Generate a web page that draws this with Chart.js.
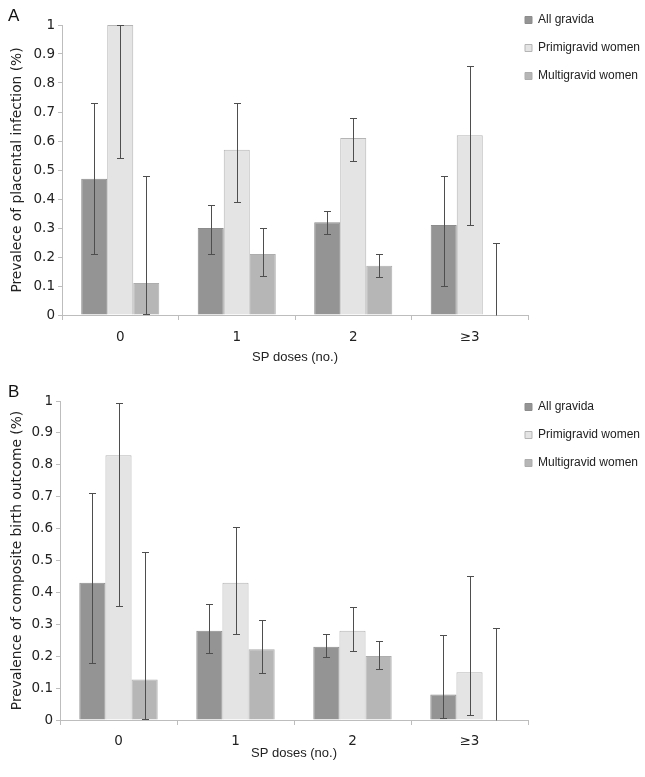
<!DOCTYPE html>
<html>
<head>
<meta charset="utf-8">
<script src="https://cdn.jsdelivr.net/npm/chart.js@4.4.1/dist/chart.umd.min.js"></script>
<style>
    body { margin: 0; background: #fff; }
    canvas { display: block; }
</style>
</head>
<body>
<canvas id="chartA" width="645" height="376"></canvas>
<canvas id="chartB" width="645" height="401"></canvas>
<script>
var doses = ['0', '1', '2', '≥3'];
var seriesNames = ['All gravida', 'Primigravid women', 'Multigravid women'];

// A - placental infection
var infAll = [0.47, 0.30, 0.32, 0.31];
var infAllLow = [0.21, 0.21, 0.28, 0.10];
var infAllHigh = [0.73, 0.38, 0.36, 0.48];
var infPrimi = [1.0, 0.57, 0.61, 0.62];
var infPrimiLow = [0.54, 0.39, 0.53, 0.31];
var infPrimiHigh = [1.0, 0.73, 0.68, 0.86];
var infMulti = [0.11, 0.21, 0.17, 0];
var infMultiLow = [0.003, 0.135, 0.13, 0];
var infMultiHigh = [0.48, 0.30, 0.21, 0.25];

// B - composite birth outcome
var cboAll = [0.43, 0.28, 0.23, 0.08];
var cboAllLow = [0.178, 0.209, 0.197, 0.007];
var cboAllHigh = [0.713, 0.363, 0.269, 0.268];
var cboPrimi = [0.83, 0.43, 0.28, 0.15];
var cboPrimiLow = [0.357, 0.269, 0.215, 0.016];
var cboPrimiHigh = [0.994, 0.605, 0.353, 0.451];
var cboMulti = [0.127, 0.222, 0.201, 0];
var cboMultiLow = [0.004, 0.146, 0.160, 0];
var cboMultiHigh = [0.527, 0.313, 0.247, 0.287];

var fills = ['#949494', '#e4e4e4', '#b6b6b6'];
var borders = ['#8c8c8c', '#b5b5b5', '#adadad'];
var axisColor = '#bdbdbd';

// error bars drawn from the y scale
var errorBars = {
    id: 'errorBars',
    afterDatasetsDraw: function(chart) {
        var ctx = chart.ctx;
        var yScale = chart.scales.y;
        ctx.save();
        ctx.strokeStyle = '#4e4e4e';
        ctx.lineWidth = 1;
        chart.data.datasets.forEach(function(ds, i) {
            var meta = chart.getDatasetMeta(i);
            meta.data.forEach(function(bar, j) {
                var x = Math.round(bar.x) + 0.5;
                var top = Math.round(yScale.getPixelForValue(ds.errHigh[j])) + 0.5;
                var bot = Math.round(yScale.getPixelForValue(ds.errLow[j])) + 0.5;
                ctx.beginPath();
                ctx.moveTo(x, top);
                ctx.lineTo(x, bot);
                ctx.moveTo(x - 3.5, top);
                ctx.lineTo(x + 3.5, top);
                if (ds.errLow[j] > 0) {
                    ctx.moveTo(x - 3.5, bot);
                    ctx.lineTo(x + 3.5, bot);
                }
                ctx.stroke();
            });
        });
        ctx.restore();
    }
};

// put the legend where the original has it (it overlaps the plot box a bit)
var legendPlace = {
    id: 'legendPlace',
    afterLayout: function(chart, args, opts) {
        var lg = chart.legend;
        var h = lg.height;
        lg.left = opts.left;
        lg.right = chart.width;
        lg.width = lg.right - lg.left;
        lg.top = opts.top;
        lg.bottom = opts.top + h;
    }
};

function makeSets(vals) {
    return vals.map(function(v, i) {
        return {
            label: seriesNames[i],
            data: v[0],
            errLow: v[1],
            errHigh: v[2],
            backgroundColor: fills[i],
            borderColor: borders[i],
            borderWidth: 1,
            categoryPercentage: 0.67,
            barPercentage: 1.0
        };
    });
}

function makeChart(id, letter, yTitle, datasets, cfg) {
    var ctx = document.getElementById(id).getContext('2d');
    return new Chart(ctx, {
        type: 'bar',
        data: { labels: doses, datasets: datasets },
        plugins: [errorBars, legendPlace],
        options: {
            responsive: false,
            animation: false,
            layout: { padding: { left: 8, right: 0, top: 0, bottom: 0 } },
            plugins: {
                title: {
                    display: true,
                    text: letter,
                    align: 'start',
                    color: '#111',
                    font: { family: 'Liberation Sans', size: 17, weight: 'normal', lineHeight: 1.0 },
                    padding: { top: 8, bottom: 0 }
                },
                legend: {
                    position: 'right',
                    align: 'start',
                    maxWidth: 117,
                    labels: {
                        boxWidth: 7,
                        boxHeight: 7,
                        padding: 16,
                        color: '#222',
                        font: { family: 'Liberation Sans', size: 12 }
                    }
                },
                tooltip: { enabled: false },
                legendPlace: { left: 509, top: cfg.legendTop }
            },
            scales: {
                x: {
                    grid: { display: true, drawOnChartArea: false, drawTicks: true, tickLength: 5, color: axisColor },
                    border: { display: true, color: axisColor },
                    ticks: { padding: cfg.xTickPad, color: '#222', font: { family: 'DejaVu Sans', size: 13.5 } },
                    title: {
                        display: true,
                        text: 'SP doses (no.)',
                        color: '#222',
                        font: { family: 'Liberation Sans', size: 13 },
                        padding: { top: 0, bottom: cfg.xTitlePad }
                    },
                    afterFit: function(s) { s.height = cfg.xHeight; }
                },
                y: {
                    min: 0,
                    max: 1,
                    grid: { display: true, drawOnChartArea: false, drawTicks: true, tickLength: 4, color: axisColor },
                    border: { display: true, color: axisColor },
                    ticks: {
                        stepSize: 0.1,
                        padding: 3,
                        color: '#222',
                        font: { family: 'DejaVu Sans', size: 13.5 },
                        callback: function(v) { return String(+v.toFixed(1)); }
                    },
                    title: {
                        display: true,
                        text: yTitle,
                        color: '#222',
                        font: { family: 'DejaVu Sans', size: 13.8 },
                        padding: { top: 1, bottom: 0 }
                    },
                    afterFit: function(s) { s.width = cfg.yWidth; }
                }
            }
        }
    });
}

makeChart('chartA', 'A', 'Prevalece of placental infection (%)', makeSets([
    [infAll, infAllLow, infAllHigh],
    [infPrimi, infPrimiLow, infPrimiHigh],
    [infMulti, infMultiLow, infMultiHigh]
]), { yWidth: 54, xHeight: 61, xTickPad: 9, xTitlePad: 11, legendTop: -2 });

makeChart('chartB', 'B', 'Prevalence of composite birth outcome (%)', makeSets([
    [cboAll, cboAllLow, cboAllHigh],
    [cboPrimi, cboPrimiLow, cboPrimiHigh],
    [cboMulti, cboMultiLow, cboMultiHigh]
]), { yWidth: 52, xHeight: 57, xTickPad: 8, xTitlePad: 16, legendTop: 9 });
</script>
</body>
</html>
